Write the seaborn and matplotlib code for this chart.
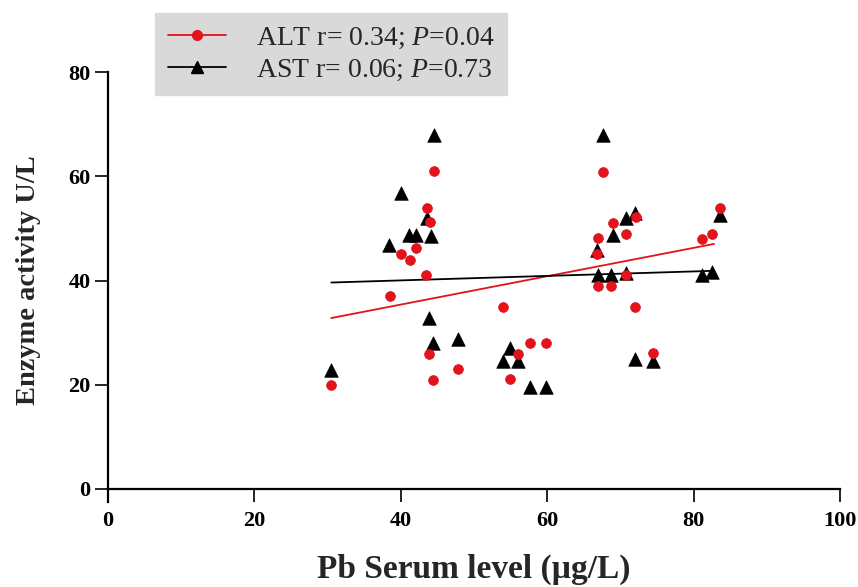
import numpy as np
import pandas as pd
import matplotlib
matplotlib.use("Agg")
import matplotlib.pyplot as plt
import seaborn as sns
from matplotlib.lines import Line2D

# ---- data ----
alt_x = [30.5, 38.5, 40.0, 41.3, 42.1, 43.6, 44.0, 44.5, 43.4, 43.9, 47.8, 44.4,
         54.0, 54.9, 56.0, 57.7, 59.8, 67.6, 72.1, 69.0, 70.8, 66.9, 66.8, 70.8,
         66.9, 68.7, 72.0, 74.5, 83.6, 81.1, 82.5]
alt_y = [20.0, 37.0, 45.1, 44.0, 46.3, 53.9, 51.2, 61.0, 41.1, 25.9, 23.0, 20.9,
         35.0, 21.1, 25.9, 28.0, 28.0, 60.8, 52.2, 51.0, 49.0, 48.2, 45.1, 41.0,
         39.0, 39.0, 35.0, 26.1, 53.9, 48.0, 49.0]
ast_x = [30.5, 38.4, 40.0, 41.1, 42.1, 43.6, 44.1, 44.5, 43.9, 44.4, 47.8,
         54.0, 54.9, 56.0, 57.7, 59.8, 67.6, 72.0, 70.8, 69.0, 66.8, 66.9,
         68.7, 70.8, 72.0, 74.5, 83.6, 81.1, 82.5]
ast_y = [22.8, 46.8, 56.8, 48.8, 48.8, 52.0, 48.6, 67.9, 32.8, 28.0, 28.8,
         24.6, 27.0, 24.6, 19.6, 19.6, 67.9, 53.0, 52.0, 48.8, 45.9, 41.0,
         41.0, 41.5, 25.0, 24.6, 52.6, 41.0, 41.6]

# regression lines (x range, slope, intercept)
fit_x_range = [30.5, 82.8]
alt_fit = [0.272, 24.5]     # slope, intercept
ast_fit = [0.043, 38.3]

legend_labels = ["ALT r= 0.34; $P$=0.04", "AST r= 0.06; $P$=0.73"]
x_ticks = [0, 20, 40, 60, 80, 100]
y_ticks = [0, 20, 40, 60, 80]

RED = "#e3121b"
BLACK = "#000000"

sns.set_style("ticks")
plt.rcParams["font.family"] = ["Liberation Serif", "DejaVu Serif"]
plt.rcParams["mathtext.fontset"] = "custom"
plt.rcParams["mathtext.rm"] = "Liberation Serif"
plt.rcParams["mathtext.it"] = "Liberation Serif:italic"

fig = plt.figure(figsize=(8.58, 5.87), dpi=100)
ax = fig.add_axes([108 / 858, 1 - 489 / 587, (840 - 108) / 858, (489 - 72) / 587])

alt_df = pd.DataFrame({"x": alt_x, "y": alt_y})
ast_df = pd.DataFrame({"x": ast_x, "y": ast_y})

lx = np.array(fit_x_range)
sns.lineplot(x=lx, y=alt_fit[0] * lx + alt_fit[1], ax=ax, color=RED, lw=1.3)
sns.lineplot(x=lx, y=ast_fit[0] * lx + ast_fit[1], ax=ax, color=BLACK, lw=1.3)

sns.scatterplot(data=ast_df, x="x", y="y", ax=ax, marker="^", color=BLACK,
                s=95, edgecolor=BLACK, linewidth=0.5, zorder=3)
sns.scatterplot(data=alt_df, x="x", y="y", ax=ax, marker="o", color=RED,
                s=50, edgecolor=RED, linewidth=0.5, zorder=4)

ax.set_xlim(0, 100)
ax.set_ylim(0, 80)
ax.set_xticks(x_ticks)
ax.set_yticks(y_ticks)
for lab in ax.get_xticklabels() + ax.get_yticklabels():
    lab.set_fontweight("bold")
    lab.set_fontsize(16)
ax.tick_params(axis="both", direction="out", length=9.5, width=1.2, colors="black")
ax.tick_params(axis="x", pad=6)
ax.tick_params(axis="y", pad=3)
for side in ["left", "bottom"]:
    ax.spines[side].set_linewidth(1.6)
    ax.spines[side].set_color("black")
sns.despine(ax=ax)
ax.spines["left"].set_bounds(-2.5, 80)

ax.set_xlabel("Pb Serum level (µg/L)", fontsize=24, fontweight="bold", labelpad=17)
ax.set_ylabel("Enzyme activity U/L", fontsize=20.5, fontweight="bold", labelpad=20)

handles = [
    Line2D([0], [0], color=RED, marker="o", markersize=7, lw=1.3),
    Line2D([0], [0], color=BLACK, marker="^", markersize=8, lw=1.3),
]
leg = fig.legend(handles, legend_labels, loc="upper left",
                 bbox_to_anchor=(155 / 858, 1 - 13 / 587), frameon=True,
                 fancybox=False, fontsize=20, handlelength=2.1,
                 handletextpad=1.1, borderpad=0.45, labelspacing=0.22,
                 borderaxespad=0)
leg.get_frame().set_facecolor("#d9d9d9")
leg.get_frame().set_edgecolor("#d9d9d9")
leg.get_frame().set_alpha(1.0)

fig.savefig("out.png", dpi=100)
